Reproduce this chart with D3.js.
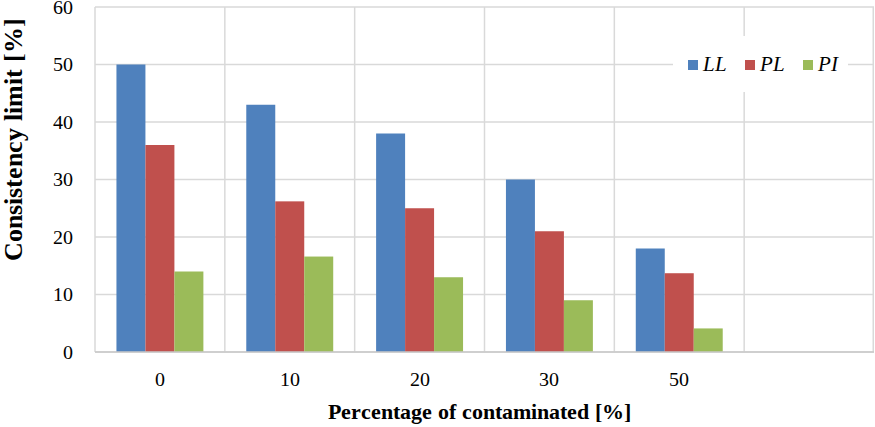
<!DOCTYPE html>
<html>
<head>
<meta charset="utf-8">
<style>
  @font-face { font-family: "ChartSerif"; src: local("Liberation Serif"), local("LiberationSerif-Regular"); font-weight: normal; font-style: normal; }
  @font-face { font-family: "ChartSerif"; src: local("Liberation Serif Bold"), local("LiberationSerif-Bold"); font-weight: bold; font-style: normal; }
  @font-face { font-family: "ChartSerif"; src: local("Liberation Serif Italic"), local("LiberationSerif-Italic"); font-weight: normal; font-style: italic; }
  body { margin: 0; background: #fff; }
  svg text { font-family: ChartSerif, "Liberation Serif", serif; }
</style>
</head>
<body>
<div id="chart"></div>
<script src="https://cdn.jsdelivr.net/npm/d3@7"></script>
<script>
// data
var categories = ["0", "10", "20", "30", "50"];
var seriesNames = ["LL", "PL", "PI"];
var llValues = [50, 43, 38, 30, 18];
var plValues = [36, 26.2, 25, 21, 13.7];
var piValues = [14, 16.6, 13, 9, 4.1];
var yTicks = [0, 10, 20, 30, 40, 50, 60];
var colors = ["#4f81bd", "#c0504d", "#9bbb59"];

var width = 875, height = 427;
var margin = { top: 7, right: 1, bottom: 75, left: 95 };
var innerW = width - margin.left - margin.right;
var innerH = height - margin.top - margin.bottom;

var svg = d3.select("#chart").append("svg")
    .attr("width", width)
    .attr("height", height);

var g = svg.append("g")
    .attr("transform", "translate(" + margin.left + "," + margin.top + ")");

// six slots, the last one is left empty like in the original
var slots = categories.concat([" "]);
var x0 = d3.scaleBand().domain(slots).range([0, innerW]).padding(0);
var x1 = d3.scaleBand().domain(seriesNames).range([0, x0.bandwidth()])
    .paddingInner(0).paddingOuter(0.74);
var y = d3.scaleLinear().domain([0, 60]).range([innerH, 0]);

var rows = categories.map(function(c, i) {
    return { cat: c, values: [llValues[i], plValues[i], piValues[i]] };
});

// grid
g.selectAll("line.hgrid").data(yTicks).enter().append("line")
    .attr("class", "hgrid")
    .attr("x1", 0).attr("x2", innerW)
    .attr("y1", function(d) { return y(d); })
    .attr("y2", function(d) { return y(d); })
    .attr("stroke", "#d9d9d9").attr("stroke-width", 1.5);

var edges = slots.map(function(s) { return x0(s); }).concat([innerW - 0.75]);
g.selectAll("line.vgrid").data(edges).enter().append("line")
    .attr("class", "vgrid")
    .attr("x1", function(d) { return d; }).attr("x2", function(d) { return d; })
    .attr("y1", 0).attr("y2", innerH)
    .attr("stroke", "#d9d9d9").attr("stroke-width", 1.5);

// bars
var groups = g.selectAll("g.cat").data(rows).enter().append("g")
    .attr("class", "cat")
    .attr("transform", function(d) { return "translate(" + x0(d.cat) + ",0)"; });

groups.selectAll("rect").data(function(d) {
        return d.values.map(function(v, i) { return { key: seriesNames[i], value: v, i: i }; });
    })
    .enter().append("rect")
    .attr("x", function(d) { return x1(d.key); })
    .attr("width", x1.bandwidth())
    .attr("y", function(d) { return y(d.value); })
    .attr("height", function(d) { return innerH - y(d.value); })
    .attr("fill", function(d) { return colors[d.i]; });

// bottom axis line
g.append("line")
    .attr("x1", 0).attr("x2", innerW)
    .attr("y1", innerH).attr("y2", innerH)
    .attr("stroke", "#c8c8c8").attr("stroke-width", 1.5);

// y tick labels
g.selectAll("text.ytick").data(yTicks).enter().append("text")
    .attr("class", "ytick")
    .attr("x", -22)
    .attr("y", function(d) { return y(d); })
    .attr("dy", "0.34em")
    .attr("text-anchor", "end")
    .attr("font-size", 20)
    .text(function(d) { return d; });

// x tick labels
g.selectAll("text.xtick").data(categories).enter().append("text")
    .attr("class", "xtick")
    .attr("x", function(d) { return x0(d) + x0.bandwidth() / 2; })
    .attr("y", innerH + 34)
    .attr("text-anchor", "middle")
    .attr("font-size", 20)
    .text(function(d) { return d; });

// axis titles
svg.append("text")
    .attr("x", 479).attr("y", 419)
    .attr("text-anchor", "middle")
    .attr("font-size", 22).attr("font-weight", "bold")
    .text("Percentage of contaminated [%]");

svg.append("text")
    .attr("transform", "translate(22,139) rotate(-90)")
    .attr("text-anchor", "middle")
    .attr("font-size", 26).attr("font-weight", "bold")
    .text("Consistency limit [%]");

// legend
var legend = svg.append("g").attr("transform", "translate(673,36)");
legend.append("rect")
    .attr("width", 175).attr("height", 56)
    .attr("fill", "#fff");

var legendX = [15, 72, 130];
var items = legend.selectAll("g.item").data(seriesNames).enter().append("g")
    .attr("class", "item")
    .attr("transform", function(d, i) { return "translate(" + legendX[i] + ",24)"; });
items.append("rect")
    .attr("width", 10).attr("height", 10)
    .attr("fill", function(d, i) { return colors[i]; });
items.append("text")
    .attr("x", 15).attr("y", 11)
    .attr("font-size", 21).attr("font-style", "italic")
    .text(function(d) { return d; });
</script>
</body>
</html>
